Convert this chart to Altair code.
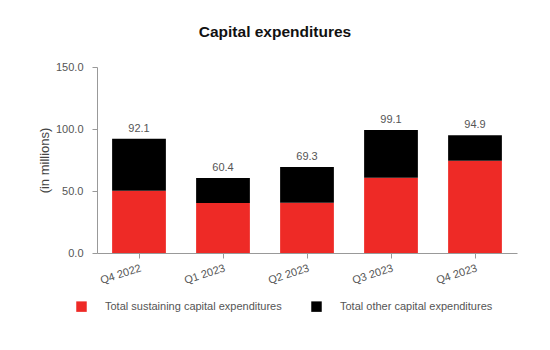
import altair as alt
import pandas as pd

quarters = ["Q4 2022", "Q1 2023", "Q2 2023", "Q3 2023", "Q4 2023"]
sustaining = [50.2, 40.4, 40.6, 60.6, 74.3]
totals = [92.1, 60.4, 69.3, 99.1, 94.9]
other = [round(t - s, 1) for t, s in zip(totals, sustaining)]
series = ["Total sustaining capital expenditures", "Total other capital expenditures"]
colors = ["#ee2a26", "#000000"]

rows = []
for q, s, o in zip(quarters, sustaining, other):
    rows.append({"quarter": q, "series": series[0], "value": s, "ord": 0})
    rows.append({"quarter": q, "series": series[1], "value": o, "ord": 1})
df = pd.DataFrame(rows)
tot = pd.DataFrame({"quarter": quarters, "total": totals})

yscale = alt.Scale(domain=[0, 150], nice=False, zero=True)

xenc = alt.X("quarter:N", sort=quarters, title=None,
             scale=alt.Scale(paddingInner=0.36, paddingOuter=0.18),
             axis=alt.Axis(labelAngle=342, labelAlign="right", labelBaseline="top",
                           labelColor="#555555", labelFontSize=11, labelPadding=4,
                           domainColor="#999999", tickColor="#999999", tickSize=5,
                           labelFont="Liberation Sans"))

bars = alt.Chart(df).mark_bar().encode(
    x=xenc,
    y=alt.Y("value:Q", stack="zero", title="(in millions)",
            scale=yscale,
            axis=alt.Axis(values=[0, 50, 100, 150], format=".1f", grid=False,
                          labelColor="#555555", labelFontSize=11, labelPadding=9,
                          domainColor="#999999", tickColor="#999999", tickSize=5,
                          titleColor="#444444", titleFontSize=13, titleFontWeight="normal",
                          titlePadding=4, labelFont="Liberation Sans",
                          titleFont="Liberation Sans")),
    color=alt.Color("series:N", scale=alt.Scale(domain=series, range=colors),
                    legend=alt.Legend(title=None, orient="none", legendX=-21, legendY=234,
                                      direction="horizontal", columns=2,
                                      symbolType="square", symbolSize=110,
                                      symbolStrokeWidth=0, labelOffset=18,
                                      columnPadding=29, labelFontSize=11,
                                      labelColor="#555555", labelLimit=300,
                                      labelFont="Liberation Sans")),
    order=alt.Order("ord:Q"),
)

labels = alt.Chart(tot).mark_text(dy=-10, fontSize=11, color="#555555",
                                  font="Liberation Sans").encode(
    x=alt.X("quarter:N", sort=quarters),
    y=alt.Y("total:Q", scale=yscale),
    text=alt.Text("total:Q", format=".1f"),
)

chart = alt.layer(bars, labels).properties(
    width=420, height=186,
    autosize=alt.AutoSizeParams(type="none"),
    padding={"left": 97, "top": 67, "right": 33, "bottom": 97},
    title=alt.Title("Capital expenditures", fontSize=15.5, fontWeight="bold",
                    font="Liberation Sans", color="#111111", dx=-32, offset=21),
).configure_view(stroke=None)

chart.save("out.html", embed_options={"renderer": "svg", "actions": False})
